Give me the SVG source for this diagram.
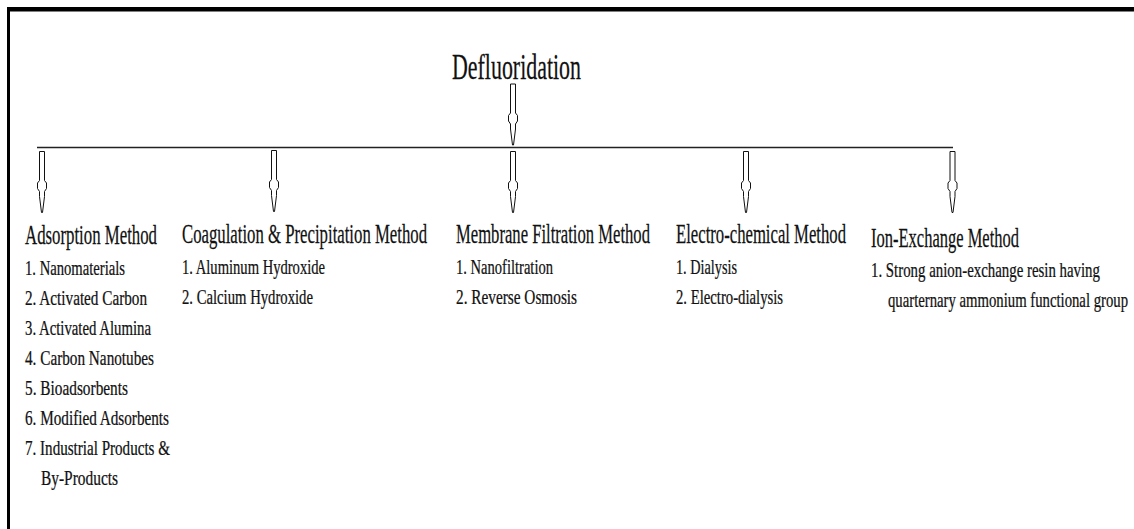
<svg xmlns="http://www.w3.org/2000/svg" width="1134" height="529" viewBox="0 0 1134 529">
<style>
  text { font-family: "Liberation Serif", "Times New Roman", serif; fill: #111; stroke: #111; stroke-width: 0.25; }
  .title { font-size: 35px; }
  .head { font-size: 27px; }
  .item { font-size: 21px; }
  .arrow { fill: #fff; stroke: #111; stroke-width: 1; stroke-linejoin: miter; }
</style>
<defs>
  <path id="arw" class="arrow" d="M-2.5,0 H2.5 V29 L4.5,31.5 V37 L2.5,40 V45 L0.5,61 H-0.5 L-2.5,45 V40 L-4.5,37 V31.5 L-2.5,29 Z"/>
</defs>
<rect width="1134" height="529" fill="#fff"/>
<g id="frame">
  <rect x="7" y="7" width="1127" height="4.5" fill="#000"/>
  <rect x="7" y="7" width="3" height="522" fill="#000"/>
</g>
<g id="connectors">
  <line x1="37" y1="147.5" x2="953" y2="147.5" stroke="#222" stroke-width="1.6"/>
  <use href="#arw" x="513" y="84"/>
  <use href="#arw" x="42" y="151.5"/>
  <use href="#arw" x="274" y="150.5"/>
  <use href="#arw" x="513" y="151.5"/>
  <use href="#arw" x="746" y="151.5"/>
  <use href="#arw" x="952.5" y="151.5"/>
</g>
<g id="root">
  <text class="title" transform="translate(452 79) scale(0.6 1)" textLength="215" lengthAdjust="spacingAndGlyphs">Defluoridation</text>
</g>
<g id="adsorption">
  <text class="head" transform="translate(25 244) scale(0.62 1)" textLength="212.9" lengthAdjust="spacingAndGlyphs">Adsorption Method</text>
  <text class="item" transform="translate(25 275) scale(0.7 1)" textLength="142.9" lengthAdjust="spacingAndGlyphs">1. Nanomaterials</text>
  <text class="item" transform="translate(25 305) scale(0.7 1)" textLength="174.3" lengthAdjust="spacingAndGlyphs">2. Activated Carbon</text>
  <text class="item" transform="translate(25 335) scale(0.7 1)" textLength="180" lengthAdjust="spacingAndGlyphs">3. Activated Alumina</text>
  <text class="item" transform="translate(25 365) scale(0.7 1)" textLength="184.3" lengthAdjust="spacingAndGlyphs">4. Carbon Nanotubes</text>
  <text class="item" transform="translate(25 395) scale(0.7 1)" textLength="147.1" lengthAdjust="spacingAndGlyphs">5. Bioadsorbents</text>
  <text class="item" transform="translate(25 425) scale(0.7 1)" textLength="205.7" lengthAdjust="spacingAndGlyphs">6. Modified Adsorbents</text>
  <text class="item" transform="translate(25 455) scale(0.7 1)" textLength="207.1" lengthAdjust="spacingAndGlyphs">7. Industrial Products &amp;</text>
  <text class="item" transform="translate(41 485) scale(0.7 1)" textLength="110" lengthAdjust="spacingAndGlyphs">By-Products</text>
</g>
<g id="coagulation">
  <text class="head" transform="translate(182 243) scale(0.62 1)" textLength="395.2" lengthAdjust="spacingAndGlyphs">Coagulation &amp; Precipitation Method</text>
  <text class="item" transform="translate(182 274) scale(0.7 1)" textLength="204.3" lengthAdjust="spacingAndGlyphs">1. Aluminum Hydroxide</text>
  <text class="item" transform="translate(182 304) scale(0.7 1)" textLength="187.1" lengthAdjust="spacingAndGlyphs">2. Calcium Hydroxide</text>
</g>
<g id="membrane">
  <text class="head" transform="translate(456 243) scale(0.62 1)" textLength="312.9" lengthAdjust="spacingAndGlyphs">Membrane Filtration Method</text>
  <text class="item" transform="translate(456 274) scale(0.7 1)" textLength="138.6" lengthAdjust="spacingAndGlyphs">1. Nanofiltration</text>
  <text class="item" transform="translate(456 304) scale(0.7 1)" textLength="172.9" lengthAdjust="spacingAndGlyphs">2. Reverse Osmosis</text>
</g>
<g id="electrochemical">
  <text class="head" transform="translate(676 243) scale(0.62 1)" textLength="274.2" lengthAdjust="spacingAndGlyphs">Electro-chemical Method</text>
  <text class="item" transform="translate(676 274) scale(0.7 1)" textLength="87.1" lengthAdjust="spacingAndGlyphs">1. Dialysis</text>
  <text class="item" transform="translate(676 304) scale(0.7 1)" textLength="152.9" lengthAdjust="spacingAndGlyphs">2. Electro-dialysis</text>
</g>
<g id="ionexchange">
  <text class="head" transform="translate(871 247) scale(0.62 1)" textLength="238.7" lengthAdjust="spacingAndGlyphs">Ion-Exchange Method</text>
  <text class="item" transform="translate(871 277) scale(0.7 1)" textLength="327.1" lengthAdjust="spacingAndGlyphs">1. Strong anion-exchange resin having</text>
  <text class="item" transform="translate(888 307) scale(0.7 1)" textLength="342.9" lengthAdjust="spacingAndGlyphs">quarternary ammonium functional group</text>
</g>
</svg>
